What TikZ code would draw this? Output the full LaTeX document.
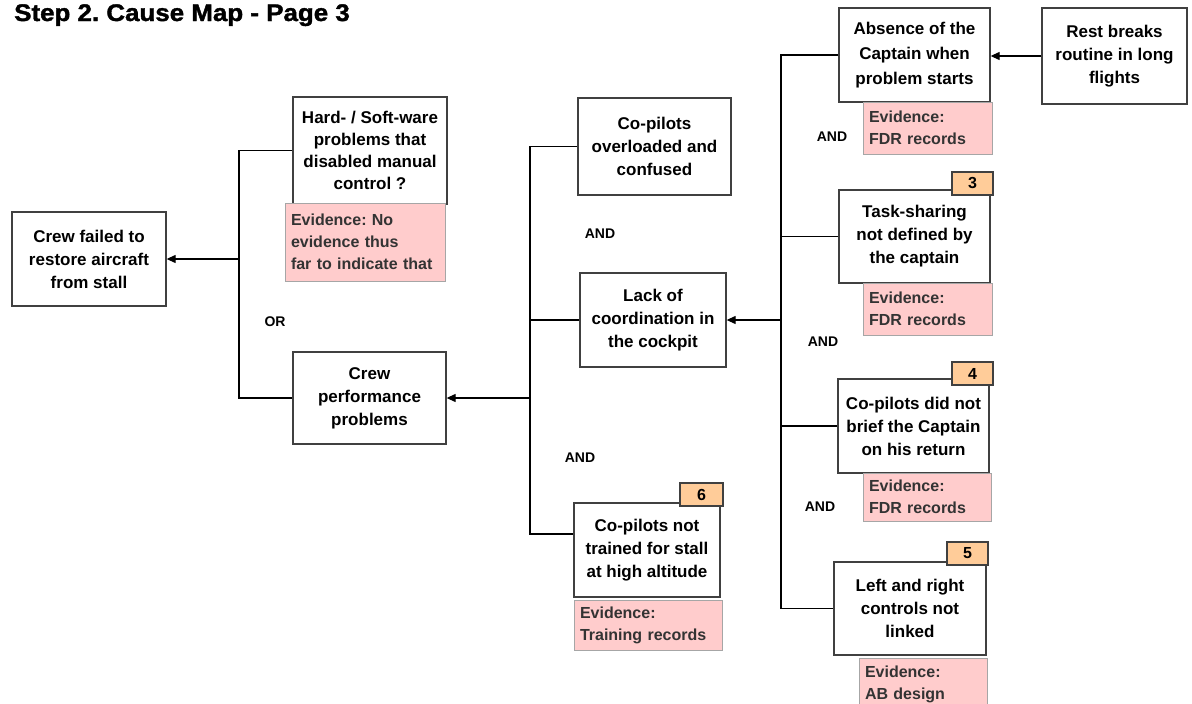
\documentclass[tikz,border=0pt]{standalone}
\usepackage{fontspec}
\setmainfont{Liberation Sans}
\usetikzlibrary{arrows.meta}

\definecolor{boxline}{HTML}{404040}
\definecolor{evfill}{HTML}{FFCCCC}
\definecolor{evline}{HTML}{A6A6A6}
\definecolor{badgefill}{HTML}{FFCC99}
\definecolor{evtext}{HTML}{333333}

\frenchspacing

\begin{document}
\begin{tikzpicture}[x=1pt,y=-1pt,
  cause/.style={draw=boxline, line width=1.3pt, fill=white, align=center,
    inner sep=2pt, font=\bfseries\fontsize{17}{23}\selectfont},
  evidence/.style={draw=evline, line width=1pt, fill=evfill, align=left,
    inner xsep=6pt, inner ysep=0pt, text=evtext,
    font=\bfseries\fontsize{16}{22}\selectfont},
  badge/.style={draw=boxline, line width=1.2pt, fill=badgefill,
    minimum width=41pt, minimum height=23pt, inner sep=0pt,
    font=\bfseries\fontsize{16}{18}\selectfont},
  gate/.style={font=\bfseries\fontsize{14}{16}\selectfont},
  link/.style={draw=black, line width=1.2pt},
  arr/.style={-{Triangle[length=9pt,width=8pt]}}]

\useasboundingbox (0,0) rectangle (1192,704);
\fill[white] (0,0) rectangle (1192,704);

% title
\node[anchor=base west, inner sep=0pt] (title) at (14,21)
  {\scalebox{1.08}[1]{\bfseries\fontsize{24}{28}\selectfont\addfontfeatures{FakeBold=1.5}Step 2. Cause Map - Page 3}};

% cause boxes
\node[cause, minimum width=154pt, minimum height=94pt] (A) at (89,259)
  {Crew failed to\\restore aircraft\\from stall};
\node[cause, minimum width=154pt, minimum height=107pt,
  font=\bfseries\fontsize{17}{22}\selectfont] (B) at (370,150.5)
  {Hard- / Soft-ware\\problems that\\disabled manual\\control ?};
\node[cause, minimum width=153pt, minimum height=92pt] (C) at (369.5,398)
  {Crew\\performance\\problems};
\node[cause, minimum width=153pt, minimum height=97pt] (D) at (654.5,146.5)
  {Co-pilots\\overloaded and\\confused};
\node[cause, minimum width=146pt, minimum height=94pt] (E) at (653,320)
  {Lack of\\coordination in\\the cockpit};
\node[cause, minimum width=146pt, minimum height=94pt] (F) at (647,550)
  {Co-pilots not\\trained for stall\\at high altitude};
\node[cause, minimum width=151pt, minimum height=94pt,
  font=\bfseries\fontsize{17}{25}\selectfont] (G) at (914.5,55)
  {Absence of the\\Captain when\\problem starts};
\node[cause, minimum width=145pt, minimum height=96pt] (H) at (1114.5,56)
  {Rest breaks\\routine in long\\flights};
\node[cause, minimum width=151pt, minimum height=93pt] (I) at (914.5,236.5)
  {Task-sharing\\not defined by\\the captain};
\node[cause, minimum width=151pt, minimum height=94pt] (J) at (913.5,426)
  {Co-pilots did not\\brief the Captain\\on his return};
\node[cause, minimum width=152pt, minimum height=93pt] (K) at (910,608.5)
  {Left and right\\controls not\\linked};

% evidence boxes
\node[evidence, minimum width=160pt, minimum height=78pt, text width=148pt] (evB) at (365,242)
  {Evidence: No\\evidence thus\\far to indicate that};
\node[evidence, minimum width=148pt, minimum height=50pt, text width=136pt] (evF) at (648,625)
  {Evidence:\\Training records};
\node[evidence, minimum width=129pt, minimum height=52pt, text width=117pt] (evG) at (927.5,128)
  {Evidence:\\FDR records};
\node[evidence, minimum width=129pt, minimum height=52pt, text width=117pt] (evI) at (927.5,309)
  {Evidence:\\FDR records};
\node[evidence, minimum width=128pt, minimum height=48pt, text width=116pt] (evJ) at (927,497)
  {Evidence:\\FDR records};
\node[evidence, minimum width=128pt, minimum height=52pt, text width=116pt] (evK) at (923,684)
  {Evidence:\\AB design};

% root-cause numbers
\node[badge] (n3) at (972.5,183.5) {3};
\node[badge] (n4) at (972.5,373.5) {4};
\node[badge] (n5) at (967.5,553.5) {5};
\node[badge, minimum width=43pt] (n6) at (701.5,494.5) {6};

% logic gates
\node[gate] (or1) at (275,322) {OR};
\node[gate] (and1) at (600,234) {AND};
\node[gate] (and2) at (580,458) {AND};
\node[gate] (and3) at (832,137) {AND};
\node[gate] (and4) at (823,342) {AND};
\node[gate] (and5) at (820,507) {AND};

% branching buses
\coordinate (bus1) at (239,0);
\coordinate (bus2) at (530,0);
\coordinate (bus3) at (781,0);
\coordinate (Fj) at ([yshift=16pt]F.west);

\draw[link] (B.west) -- (B.west -| bus1) -- (C.west -| bus1) -- (C.west);
\draw[link,arr] (bus1 |- A.east) -- (A.east);

\draw[link] (D.west) -- (D.west -| bus2) -- (Fj -| bus2) -- (Fj);
\draw[link] (E.west) -- (E.west -| bus2);
\draw[link,arr] (bus2 |- C.east) -- (C.east);

\draw[link] (G.west) -- (G.west -| bus3) -- (K.west -| bus3) -- (K.west);
\draw[link] (I.west) -- (I.west -| bus3);
\draw[link] (J.west) -- (J.west -| bus3);
\draw[link,arr] (bus3 |- E.east) -- (E.east);

\draw[link,arr] (H.west) -- (H.west -| G.east);

\end{tikzpicture}
\end{document}
